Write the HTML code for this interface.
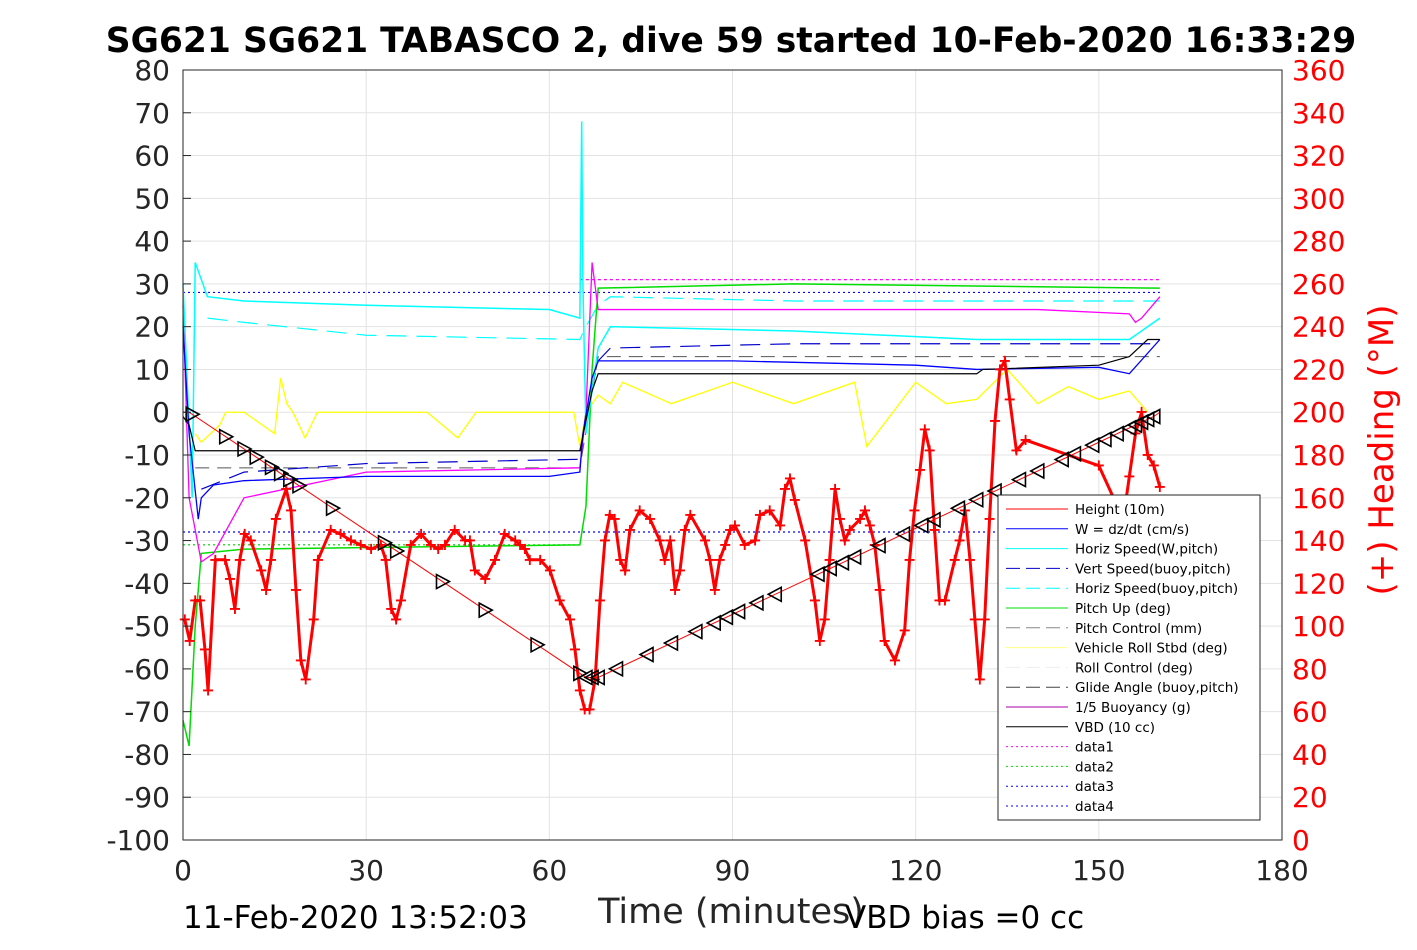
<!DOCTYPE html>
<html><head><meta charset="utf-8"><style>
body{margin:0;background:#fff;}
svg{font-family:"DejaVu Sans","Liberation Sans",sans-serif;}
</style></head><body>
<svg id="c" width="1417" height="945" xmlns="http://www.w3.org/2000/svg"></svg>
<script>
const leftTicks=[80,70,60,50,40,30,20,10,0,-10,-20,-30,-40,-50,-60,-70,-80,-90,-100];
const rightTicks=[0,20,40,60,80,100,120,140,160,180,200,220,240,260,280,300,320,340,360];
const xTicks=[0,30,60,90,120,150,180];
const depthT=[0,1,66,68,159,160];
const depthV=[0,0,-62,-62,-1,0];
const triT=[1.5,7,10,12,14.5,16,17.5,19,24.5,33,35,42.5,49.5,58,65,66,67,68,71,76,80,84,87,89,91,94,97,104,106,108,110,114,118,121,123,127,130,133,137,140,144,146,149,151,153,155,156,157,158,159];
const wT=[0,1,2.5,3,5,10,30,60,65,65.5,67,68,90,120,130,150,155,160];
const wV=[20,-5,-25,-20,-17,-16,-15,-15,-14,-5,8,12,12,11,10,10.5,9,17];
const hsT=[0,1.5,2,4,10,30,60,65,65.3,65.5,66,68,70,100,130,155,160];
const hsV=[30,-20,35,27,26,25,24,22,68,30,-5,15,20,19,17,17,22];
const vbT=[3,10,30,65,66,68,70,100,160];
const vbV=[-18,-14,-12,-11,0,12,15,16,16];
const hbT=[4,10,30,65,66,68,70,100,160];
const hbV=[22,21,18,17,20,25,27,26,26];
const pT=[0,1,2,3,10,65,66,67,68,100,160];
const pV=[-72,-78,-50,-33,-32,-31,-22,10,29,30,29];
const bT=[0,1,3,5,10,30,65,66,67,68,70,140,155,156,157,160];
const bV=[25,-20,-35,-33,-20,-14,-13,0,35,24,24,24,23,21,22,27];
const vbdT=[0,1,2,65,67,68,130,131,150,155,158,160];
const vbdV=[-1,-3,-9,-9,5,9,9,10,11,13,17,17];
const rollT=[2,3,6,7,10,15,16,17,18,20,22,30,40,45,48,50,60,64,65,66,68,70,72,80,90,100,110,112,120,125,130,135,140,145,150,155,158];
const rollV=[-5,-7,-3,0,0,-5,8,2,0,-6,0,0,0,-6,0,0,0,0,-8,0,4,2,7,2,7,2,7,-8,7,2,3,10,2,6,3,5,0];
const headT=[0.3,1.1,2,2.8,3.6,4.1,5.3,6.9,7.7,8.5,9.3,10.1,11.1,12.8,13.6,14.4,15.2,16.9,17.7,18.5,19.3,20.1,21.4,22.1,24.2,25.8,27.5,29.1,30.8,32.4,33.2,34.1,34.9,35.7,37.3,39,40.6,41.8,42.9,44.5,46.2,47,47.8,49.5,51.1,52.7,54.4,55.2,56,56.8,58.5,60.1,61.7,63.4,64.2,65,65.8,66.6,67.5,68.3,69.1,69.9,70.7,71.6,72.4,73.2,74.8,76.5,78.1,78.9,79.8,80.6,81.4,82.2,83.1,85.5,86.3,87.1,87.9,88.8,89.6,90.4,92,93.7,94.5,96.1,97.8,98.6,99.4,100.2,101.9,103.5,104.3,105.1,105.9,106.8,107.6,108.4,109.2,110.9,111.7,112.5,113.3,114.1,114.9,116.6,118.2,119,119.8,120.7,121.5,122.3,123.1,123.9,124.8,126.4,127.2,128.1,128.9,129.7,130.5,131.3,132.1,133,133.8,134.6,135.4,136.5,138,150,154,155,156,157,158,159,160];
const headV=[103,93,112,112,89,70,131,131,122,108,131,143,140,126,117,131,150,164,154,117,84,75,103,131,145,143,140,138,136,138,131,108,103,112,138,143,138,136,138,145,140,140,126,122,131,143,140,138,136,131,131,126,112,103,89,70,61,61,75,112,140,152,150,131,126,145,154,150,140,131,140,117,126,145,152,140,131,117,131,138,145,147,138,140,152,154,147,164,169,159,140,112,93,103,131,164,150,140,145,150,154,147,138,117,93,84,98,131,154,173,192,182,145,112,112,131,140,154,131,103,75,103,150,196,220,224,206,182,187,175,150,170,190,200,180,175,165,160,175];

const svg=document.getElementById('c');const NS='http://www.w3.org/2000/svg';
const X0=183,X1=1282,Y0=70,Y1=840;
const xs=t=>X0+(t/180)*(X1-X0);
const yl=v=>Y1-(v+100)/180*(Y1-Y0);
const yr=v=>Y1-v/360*(Y1-Y0);
function el(tag,attrs,text){const e=document.createElementNS(NS,tag);for(const k in attrs)e.setAttribute(k,attrs[k]);if(text!==undefined)e.textContent=text;svg.appendChild(e);return e;}
xTicks.forEach(t=>{const l=el('line',{x1:xs(t),x2:xs(t),y1:Y0,y2:Y1,stroke:'#e3e3e3'});

});
leftTicks.forEach(v=>{const l=el('line',{x1:X0,x2:X1,y1:yl(v),y2:yl(v),stroke:'#e3e3e3'});

});
function line(T,V,color,name,dash,w,yf){const pts=T.map((t,i)=>xs(t)+','+(yf||yl)(V[i])).join(' ');
const p=el('polyline',{points:pts,fill:'none',stroke:color,'stroke-width':w||1.2,'stroke-dasharray':dash||'none'});

return p;}
line([0,160],[28,28],'#0000ff','data3-line','2,3');
line([0,160],[-28,-28],'#0000ff','data4-line','2,3');
line([65,160],[31,31],'#ff00ff','data1-line','3,3');
line([0,65],[-31,-31],'#00cc00','data2-line','2,3');
line([2,65,68,160],[-13,-13,13,13],'#555','glide-angle-line','14,8',1);
line(rollT,rollV,'#ffff00','roll-line',null,1.3);
line(hbT,hbV,'#00ffff','horiz-speed-buoy-line','20,10');
line(vbT,vbV,'#0000cc','vert-speed-buoy-line','20,10');
line(pT,pV,'#00dd00','pitch-line',null,1.5);
line(bT,bV,'#ff00ff','buoyancy-line',null,1.3);
line(hsT,hsV,'#00ffff','horiz-speed-line',null,1.5);
line(wT,wV,'#0000ff','w-line',null,1.3);
line(vbdT,vbdV,'#000','vbd-line',null,1.2);
line(headT,headV,'#ff0000','heading-trace',null,3,yr);
headT.forEach((t,i)=>{const m=el('text',{x:xs(t),y:yr(headV[i])+5,'text-anchor':'middle','font-size':16,'font-weight':'bold',fill:'#ff0000'},'+');

});
line(depthT,depthV,'#ff0000','depth-line',null,1);
function interp(t){for(let i=0;i<depthT.length-1;i++){if(t>=depthT[i]&&t<=depthT[i+1]){const f=(t-depthT[i])/((depthT[i+1]-depthT[i])||1);return depthV[i]+f*(depthV[i+1]-depthV[i]);}}return 0;}
triT.forEach(t=>{const x=xs(t),y=yl(interp(t));const dir=t<66?1:-1;
const p=el('polygon',{points:`${x-6*dir},${y-7} ${x+7*dir},${y} ${x-6*dir},${y+7}`,fill:'none',stroke:'#000','stroke-width':1.6});

});
const bx=el('rect',{x:X0,y:Y0,width:X1-X0,height:Y1-Y0,fill:'none',stroke:'#262626','stroke-width':1});

leftTicks.forEach(v=>{const t=el('text',{x:170,y:yl(v)+10,'text-anchor':'end','font-size':28,fill:'#262626'},v);


const k=el('line',{x1:X0,x2:X0+8,y1:yl(v),y2:yl(v),stroke:'#262626'});
});
rightTicks.forEach(v=>{const t=el('text',{x:1292,y:yr(v)+10,'font-size':28,fill:'#ff0000'},v);

});
xTicks.forEach(v=>{const t=el('text',{x:xs(v),y:880,'text-anchor':'middle','font-size':28,fill:'#262626'},v);

});
function txt(x,y,s,fs,name,extra){const t=el('text',Object.assign({x:x,y:y,'font-size':fs,fill:'#000'},extra||{}),s);return t;}
txt(731,52,'SG621 SG621 TABASCO 2, dive 59 started 10-Feb-2020 16:33:29',34.5,'chart-title',{'text-anchor':'middle','font-weight':'bold'});
txt(183,928,'11-Feb-2020 13:52:03',31,'start-time-label',{fill:'#000'});
txt(731,923,'Time (minutes)',35,'x-axis-title',{'text-anchor':'middle',fill:'#262626'});
txt(845,928,'VBD bias =0 cc',31,'vbd-bias-label',{fill:'#000'});
txt(0,0,'(+) Heading (°M)',34,'right-axis-title',{'text-anchor':'middle',fill:'#ff0000',transform:'translate(1393,450) rotate(-90)'});
const lg=el('rect',{x:998,y:495,width:262,height:325,fill:'#fff',stroke:'#262626'});

const legN=['Height (10m)','W = dz/dt (cm/s)','Horiz Speed(W,pitch)','Vert Speed(buoy,pitch)','Horiz Speed(buoy,pitch)','Pitch Up (deg)','Pitch Control (mm)','Vehicle Roll Stbd (deg)','Roll Control (deg)','Glide Angle (buoy,pitch)','1/5 Buoyancy (g)','VBD (10 cc)','data1','data2','data3','data4'];
const legC=['#ff0000','#0000ff','#00ffff','#0000cc','#00ffff','#00dd00','#888','#ffff80','#eeeeee','#444','#aa00aa','#000','#ff00ff','#00dd00','#0000ff','#0000ff'];
const legD=['none','none','none','14,6','14,6','none','14,6','none','14,6','14,6','none','none','2,3','2,3','2,3','2,3'];
legN.forEach((n,i)=>{const y=509+i*19.8;
const l=el('line',{x1:1006,x2:1068,y1:y,y2:y,stroke:legC[i],'stroke-dasharray':legD[i]});

const t=el('text',{x:1075,y:y+5,'font-size':13.5,fill:'#000'},n);
});
</script>
</body></html>
